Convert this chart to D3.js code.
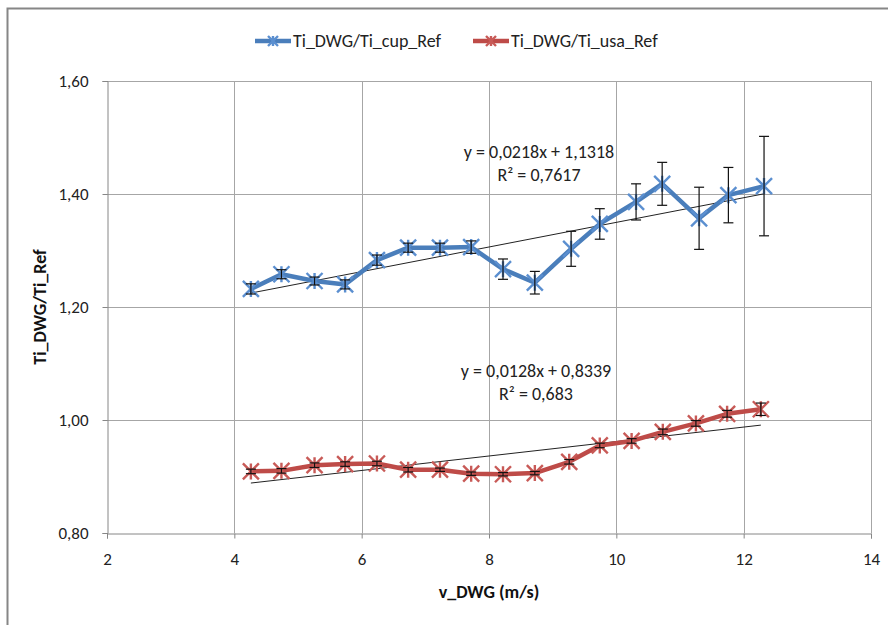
<!DOCTYPE html>
<html>
<head>
<meta charset="utf-8">
<script src="https://cdn.jsdelivr.net/npm/d3@7"></script>
<style>
  html, body { margin: 0; padding: 0; background: #fff; }
  svg { display: block; font-family: Carlito, Lato, "Open Sans", sans-serif; }
</style>
</head>
<body>
<svg id="chart" width="888" height="625"></svg>
<script>
// Wind speed (m/s) at each measurement bin
const cupX = [4.26, 4.74, 5.26, 5.74, 6.24, 6.73, 7.23, 7.72, 8.22, 8.72, 9.29, 9.74, 10.31, 10.72, 11.30, 11.76, 12.32];
const usaX = [4.26, 4.74, 5.26, 5.74, 6.24, 6.73, 7.23, 7.72, 8.22, 8.72, 9.26, 9.74, 10.24, 10.73, 11.25, 11.74, 12.27];

// Turbulence intensity ratios
const cupY = [1.232, 1.258, 1.246, 1.240, 1.283, 1.305, 1.305, 1.306, 1.267, 1.243, 1.303, 1.347, 1.386, 1.418, 1.357, 1.398, 1.414];
const usaY = [0.909, 0.910, 0.920, 0.922, 0.923, 0.912, 0.912, 0.905, 0.904, 0.906, 0.926, 0.955, 0.963, 0.979, 0.994, 1.011, 1.019];

// Error-bar half widths
const cupErr = [0.009, 0.008, 0.007, 0.008, 0.009, 0.008, 0.008, 0.011, 0.018, 0.020, 0.031, 0.027, 0.032, 0.038, 0.055, 0.049, 0.088];
const usaErr = [0.004, 0.004, 0.004, 0.004, 0.004, 0.004, 0.003, 0.003, 0.003, 0.003, 0.004, 0.004, 0.004, 0.005, 0.005, 0.006, 0.011];

// Linear trend coefficients
const cupFit = { slope: 0.0218, intercept: 1.1318, r2: "0,7617" };
const usaFit = { slope: 0.0128, intercept: 0.8339, r2: "0,683" };

const seriesNames = ["Ti_DWG/Ti_cup_Ref", "Ti_DWG/Ti_usa_Ref"];
const xTicks = [2, 4, 6, 8, 10, 12, 14];
const yTicks = [0.8, 1.0, 1.2, 1.4, 1.6];

const fmtComma = (v, d) => v.toFixed(d).replace(".", ",");

const svg = d3.select("#chart");

// outer chart frame
svg.append("rect")
  .attr("x", 7.5).attr("y", 8.5).attr("width", 900).attr("height", 700)
  .attr("fill", "none").attr("stroke", "#868686").attr("stroke-width", 2);

const plot = { left: 107, right: 871, top: 81, bottom: 533 };
const x = d3.scaleLinear().domain([2, 14]).range([plot.left, plot.right]);
const y = d3.scaleLinear().domain([0.8, 1.6]).range([plot.bottom, plot.top]);

// gridlines
const grid = svg.append("g").attr("stroke", "#a6a6a6").attr("stroke-width", 1);
grid.selectAll("line.v").data(xTicks.slice(1)).join("line")
  .attr("x1", d => Math.round(x(d)) + 0.5).attr("x2", d => Math.round(x(d)) + 0.5)
  .attr("y1", plot.top).attr("y2", plot.bottom);
grid.selectAll("line.h").data(yTicks.slice(1)).join("line")
  .attr("y1", d => Math.round(y(d)) + 0.5).attr("y2", d => Math.round(y(d)) + 0.5)
  .attr("x1", plot.left).attr("x2", plot.right);

// axes
const xAxis = d3.axisBottom(x).tickValues(xTicks).tickSize(5).tickPadding(14).tickFormat(d => d);
const yAxis = d3.axisLeft(y).tickValues(yTicks).tickSize(5).tickPadding(14).tickFormat(d => fmtComma(d, 2));

const gx = svg.append("g").attr("transform", `translate(0,${Math.round(plot.bottom) + 0.5})`).call(xAxis);
const gy = svg.append("g").attr("transform", `translate(${plot.left + 0.5},0)`).call(yAxis);
[gx, gy].forEach(g => {
  g.select(".domain").attr("stroke", "#868686");
  g.selectAll(".tick line").attr("stroke", "#868686");
  g.selectAll(".tick text").attr("fill", "#222").style("font-size", "17px")
    .style("font-family", "Carlito, Lato, sans-serif");
});

// axis titles
svg.append("text")
  .attr("x", (plot.left + plot.right) / 2).attr("y", 598)
  .attr("text-anchor", "middle").attr("font-weight", "bold").attr("font-size", 18)
  .attr("fill", "#111").text("v_DWG (m/s)");
svg.append("text")
  .attr("transform", `translate(46,${(plot.top + plot.bottom) / 2}) rotate(-90)`)
  .attr("text-anchor", "middle").attr("font-weight", "bold").attr("font-size", 18)
  .attr("fill", "#111").text("Ti_DWG/Ti_Ref");

const blue = "#4a7ebb", blueMk = "#5b8fd0";
const red = "#be4b48", redMk = "#c85a57";

// trendlines
function trend(xs, fit) {
  const x0 = d3.min(xs), x1 = d3.max(xs);
  svg.append("line")
    .attr("x1", x(x0)).attr("y1", y(fit.slope * x0 + fit.intercept))
    .attr("x2", x(x1)).attr("y2", y(fit.slope * x1 + fit.intercept))
    .attr("stroke", "#222").attr("stroke-width", 1);
}
trend(cupX, cupFit);
trend(usaX, usaFit);

// error bars
function errorBars(xs, ys, es) {
  const g = svg.append("g").attr("stroke", "#111").attr("stroke-width", 1.2);
  xs.forEach((xv, i) => {
    const cx = x(xv), t = y(ys[i] + es[i]), b = y(ys[i] - es[i]);
    g.append("line").attr("x1", cx).attr("x2", cx).attr("y1", t).attr("y2", b);
    g.append("line").attr("x1", cx - 5).attr("x2", cx + 5).attr("y1", t).attr("y2", t);
    g.append("line").attr("x1", cx - 5).attr("x2", cx + 5).attr("y1", b).attr("y2", b);
  });
}

// star marker (x plus vertical bar)
function star(g, cx, cy, r, color) {
  g.append("path")
    .attr("d", `M${cx - r},${cy - r}L${cx + r},${cy + r}M${cx - r},${cy + r}L${cx + r},${cy - r}M${cx},${cy - r}L${cx},${cy + r}`)
    .attr("stroke", color).attr("stroke-width", 2.4).attr("fill", "none");
}

function series(xs, ys, es, color, mk) {
  const line = d3.line().x(d => x(d[0])).y(d => y(d[1]));
  const pts = xs.map((v, i) => [v, ys[i]]);
  svg.append("path").datum(pts).attr("d", line)
    .attr("fill", "none").attr("stroke", color).attr("stroke-width", 4.5)
    .attr("stroke-linejoin", "round");
  const g = svg.append("g");
  pts.forEach(p => star(g, x(p[0]), y(p[1]), 8, mk));
  errorBars(xs, ys, es);
}
series(cupX, cupY, cupErr, blue, blueMk);
series(usaX, usaY, usaErr, red, redMk);

// trend equations
function eqLabel(fit, cx, cy) {
  const g = svg.append("g").attr("font-size", 18).attr("fill", "#222").attr("text-anchor", "middle");
  g.append("text").attr("x", cx).attr("y", cy)
    .text(`y = ${fmtComma(fit.slope, 4)}x + ${fmtComma(fit.intercept, 4)}`);
  g.append("text").attr("x", cx).attr("y", cy + 23).text(`R² = ${fit.r2}`);
}
eqLabel(cupFit, 539, 158);
eqLabel(usaFit, 536, 377);

// legend
const legend = svg.append("g");
[[seriesNames[0], blue, blueMk, 255], [seriesNames[1], red, redMk, 473]].forEach(([name, c, mk, lx]) => {
  legend.append("line").attr("x1", lx).attr("x2", lx + 36).attr("y1", 41).attr("y2", 41)
    .attr("stroke", c).attr("stroke-width", 4.5);
  star(legend, lx + 18, 41, 5, mk);
  legend.append("text").attr("x", lx + 38).attr("y", 47).attr("font-size", 18)
    .attr("fill", "#222").text(name);
});
</script>
</body>
</html>
